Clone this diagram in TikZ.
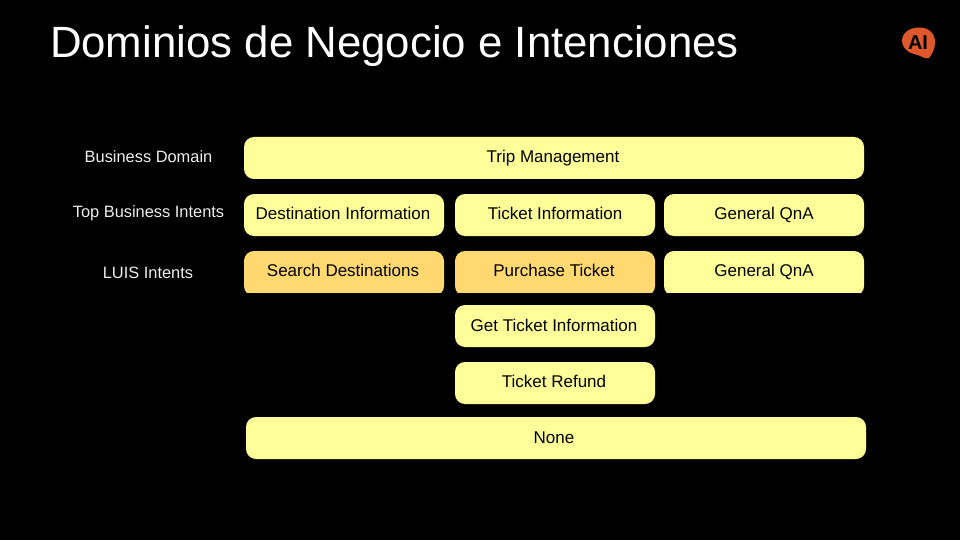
\documentclass[tikz,border=0pt]{standalone}
\usepackage{fontspec}
\setmainfont{Liberation Sans}
\definecolor{boxy}{RGB}{255,255,153}
\definecolor{boxo}{RGB}{255,217,112}
\definecolor{logoc}{RGB}{222,88,44}
\definecolor{lab}{RGB}{238,238,238}
\begin{document}
\begin{tikzpicture}[x=1pt,y=-1pt,
  every node/.style={inner sep=0pt,outer sep=0pt},
  yb/.style={fill=boxy,rounded corners=10pt},
  ob/.style={fill=boxo,rounded corners=10pt},
  txt/.style={font=\fontsize{17}{20}\selectfont,text=black,anchor=base},
  lbl/.style={font=\fontsize{16.4}{20}\selectfont,text=lab,anchor=base}]
\useasboundingbox[fill=black] (0,0) rectangle (960,540);
\node[anchor=base west,text=white,font=\fontsize{43.8}{50}\selectfont] (title) at (50,57.5) {Dominios de Negocio e Intenciones};
% logo
\fill[logoc] (918,27.5) .. controls (928,27) and (935,33) .. (935,42) .. controls (935,49) and (932,54) .. (929,58) .. controls (925,60) and (921,55) .. (914,54) .. controls (906,52) and (902,46) .. (902,41) .. controls (902,33) and (909,28) .. (918,27.5) -- cycle;
\node[text=black,font=\bfseries\fontsize{20}{22}\selectfont,anchor=base] (logo) at (918,49.5) {AI};
% boxes
\newcommand{\bx}[8]{\path[#2] (#3,#4) rectangle (#5,#6); \node[txt] (#1) at (#7) {#8};}
\bx{trip}{yb}{244}{137}{864}{179}{553,163}{Trip Management}
\bx{dest}{yb}{244}{194}{444}{236}{343,219}{Destination Information}
\bx{tick}{yb}{455}{194}{655}{236}{555,219}{Ticket Information}
\bx{qna}{yb}{664}{194}{864}{236}{764,219}{General QnA}
\begin{scope}
\clip (230,240) rectangle (880,292.5);
\path[ob] (244,251) rectangle (444,296);
\path[ob] (455,251) rectangle (655,296);
\path[yb] (664,251) rectangle (864,296);
\end{scope}
\node[txt] (sear) at (343,276) {Search Destinations};
\node[txt] (purc) at (554,276) {Purchase Ticket};
\node[txt] (qnb) at (764,276) {General QnA};
\bx{gett}{yb}{455}{305}{655}{347}{554,331}{Get Ticket Information}
\bx{refu}{yb}{455}{362}{655}{404}{554,387}{Ticket Refund}
\bx{none}{yb}{246}{417}{866}{459}{554,443}{None}
\node[lbl] (l1) at (148.5,163) {Business Domain};
\node[lbl] (l2) at (148.5,217) {Top Business Intents};
\node[lbl] (l3) at (148,278.5) {LUIS Intents};
\end{tikzpicture}
\end{document}
